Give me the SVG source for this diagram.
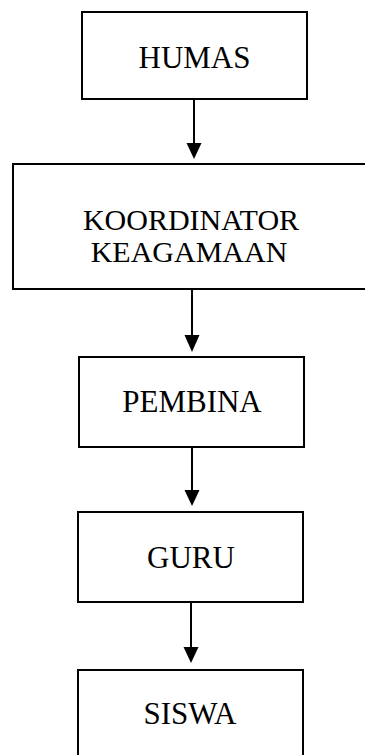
<svg xmlns="http://www.w3.org/2000/svg" width="365" height="755" viewBox="0 0 365 755">
<style>
.box{fill:#fff;stroke:#000;stroke-width:2}
.lbl{font-family:"Liberation Serif","Times New Roman",serif;font-size:31px;fill:#000;text-anchor:middle}
.sm{font-size:30px}
.conn{stroke:#000;stroke-width:2;fill:none}
.head{fill:#000}
</style>
<rect width="365" height="755" fill="#fff"/>
<g id="humas">
<rect class="box" x="82" y="12" width="225" height="87"/>
<text class="lbl" x="194.5" y="68">HUMAS</text>
</g>
<g id="koordinator">
<rect class="box" x="13" y="164" width="360" height="125"/>
<text class="lbl sm" x="191" y="230">KOORDINATOR</text>
<text class="lbl sm" x="189" y="262">KEAGAMAAN</text>
</g>
<g id="pembina">
<rect class="box" x="79" y="357" width="225" height="90"/>
<text class="lbl" x="192" y="412">PEMBINA</text>
</g>
<g id="guru">
<rect class="box" x="78" y="512" width="225" height="90"/>
<text class="lbl" x="191" y="568">GURU</text>
</g>
<g id="siswa">
<rect class="box" x="78" y="670" width="225" height="100"/>
<text class="lbl" x="190" y="724">SISWA</text>
</g>
<g id="connectors">
<line class="conn" x1="194" y1="99" x2="194" y2="145"/>
<polygon class="head" points="186.5,143 201.5,143 194,159"/>
<line class="conn" x1="192" y1="289" x2="192" y2="337"/>
<polygon class="head" points="184.5,335 199.5,335 192,352"/>
<line class="conn" x1="192" y1="447" x2="192" y2="492"/>
<polygon class="head" points="184.5,490 199.5,490 192,506"/>
<line class="conn" x1="191" y1="602" x2="191" y2="649"/>
<polygon class="head" points="183.5,647 198.5,647 191,663"/>
</g>
</svg>
